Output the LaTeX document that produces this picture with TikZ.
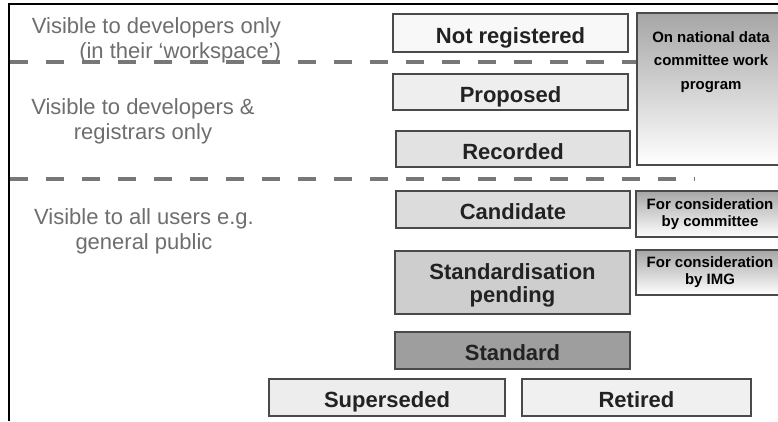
\documentclass[tikz,border=0pt]{standalone}
\usepackage{fontspec}
\setmainfont{Liberation Sans}
\begin{document}
\begin{tikzpicture}[x=1pt,y=-1pt,
  every node/.style={inner sep=0pt, outer sep=0pt},
  zonetext/.style={font=\fontsize{22}{25}\selectfont, text=zonegray},
  stage/.style={draw=edgegray, line width=1.3pt, font=\bfseries\fontsize{22}{23}\selectfont,
                text=labelblack, align=center},
  oneline/.style={text height=20pt, text depth=0pt},
  note/.style={draw=edgegray, line width=1.3pt, top color=notetop, bottom color=white,
               shading angle=0},
  notetext/.style={font=\bfseries\fontsize{15}{17}\selectfont, text=black, align=center},
  divider/.style={draw=dashgray, line width=4pt, dash pattern=on 18pt off 18pt}]

\definecolor{zonegray}{HTML}{6E6E6E}
\definecolor{edgegray}{HTML}{4A4A4A}
\definecolor{labelblack}{HTML}{222222}
\definecolor{dashgray}{HTML}{777777}
\definecolor{notetop}{HTML}{A6A6A6}

\useasboundingbox (0,0) rectangle (778,421);
\fill[white] (0,0) rectangle (778,421);

% outer frame (top and left edges)
\draw[line width=1.5pt, black] (9,421) -- (9,4) -- (780,4);

% visibility zones (anchored at the baseline of the last line)
\node[zonetext, align=right, anchor=base east] (zoneA) at (281,58)
  {Visible to developers only\\(in their `workspace')};
\node[zonetext, align=center, anchor=base] (zoneB) at (143,139)
  {Visible to developers \&\\registrars only};
\node[zonetext, align=center, anchor=base] (zoneC) at (144,249)
  {Visible to all users e.g.\\general public};

% zone dividers
\coordinate (d1a) at (10,62);
\coordinate (d1b) at (637,62);
\coordinate (d2a) at (10,179);
\coordinate (d2b) at (695,179);
\draw[divider] (d1a) -- (d1b);
\draw[divider] (d2a) -- (d2b);

% status boxes
\node[stage, oneline, fill={rgb,255:red,248;green,248;blue,248}, minimum width=235pt, minimum height=38pt]
  (notreg) at (510.5,33) {Not registered};
\node[stage, oneline, fill={rgb,255:red,238;green,238;blue,238}, minimum width=235pt, minimum height=36pt]
  (proposed) at (510.5,92) {Proposed};
\node[stage, oneline, fill={rgb,255:red,226;green,226;blue,226}, minimum width=234pt, minimum height=36pt]
  (recorded) at (513,149) {Recorded};
\node[stage, oneline, fill={rgb,255:red,220;green,220;blue,220}, minimum width=234pt, minimum height=37pt]
  (candidate) at (513,209.5) {Candidate};
\node[stage, fill={rgb,255:red,206;green,206;blue,206}, minimum width=235pt, minimum height=63pt]
  (pending) at (512.5,282.5) {\rule{0pt}{22.6pt}Standardisation\\pending};
\node[stage, oneline, fill={rgb,255:red,158;green,158;blue,158}, minimum width=235pt, minimum height=37pt]
  (standard) at (512.5,350.5) {Standard};
\node[stage, oneline, fill={rgb,255:red,237;green,237;blue,237}, minimum width=236pt, minimum height=37pt]
  (superseded) at (387,397.5) {Superseded};
\node[stage, oneline, fill={rgb,255:red,240;green,240;blue,240}, minimum width=229pt, minimum height=37pt]
  (retired) at (636.5,397.5) {Retired};

% committee / IMG notes
\node[note, minimum width=148pt, minimum height=152pt] (national) at (711,89) {};
\node[notetext, font=\bfseries\fontsize{15}{23.5}\selectfont, anchor=base] (nationaltext) at (711,89)
  {On national data\\committee work\\program};
\node[note, notetext, minimum width=148pt, minimum height=46pt] (bycommittee) at (710,214)
  {For consideration\\by committee};
\node[note, notetext, minimum width=148pt, minimum height=45pt] (byimg) at (710,272.5)
  {For consideration\\by IMG};

\end{tikzpicture}
\end{document}
